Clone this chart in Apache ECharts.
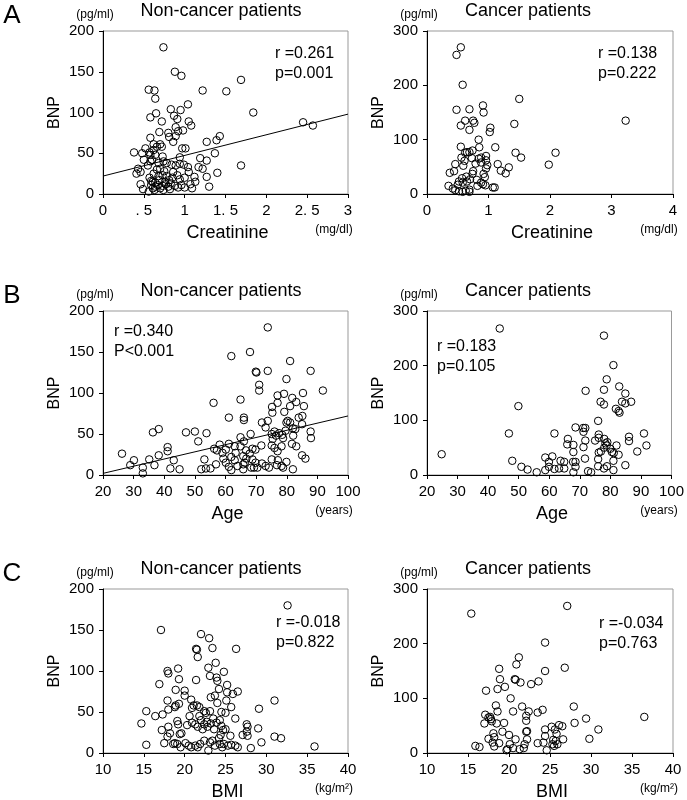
<!DOCTYPE html>
<html><head><meta charset="utf-8">
<script src="https://cdn.jsdelivr.net/npm/echarts@6/dist/echarts.min.js"></script>
<style>html,body{margin:0;padding:0;background:#fff}#c{width:687px;height:800px}</style>
</head><body><div id="c"></div>
<script>
// ---- DATA ----
const creatNonCancer = [[0.74,180],[0.88,150],[0.96,145],[0.56,128],[0.63,127],[0.64,117],[1.22,127],[1.51,126],[1.69,140],[0.65,99],[0.58,94],[0.72,89],[0.83,104],[0.87,96],[0.91,92],[0.95,103],[1.04,110],[1.05,89],[1.08,84],[1.84,100],[2.45,88],[2.57,84],[0.69,76],[0.80,75],[0.81,70],[0.89,82],[0.89,71],[0.92,77],[0.98,78],[0.86,64],[0.58,69],[0.62,61],[0.70,61],[1.27,64],[1.39,66],[1.43,71],[0.38,51],[0.48,50],[0.52,56],[0.57,51],[0.62,54],[0.66,58],[0.72,58],[0.97,56],[1.01,56],[0.58,48],[0.64,48],[0.73,46],[0.94,45],[0.50,42],[0.60,42],[0.68,38],[0.74,40],[0.78,38],[0.84,36],[0.89,35],[0.94,37],[0.99,36],[1.04,33],[1.19,44],[1.17,33],[1.22,31],[1.27,41],[1.37,50],[1.40,26],[1.27,21],[1.30,9],[1.69,35],[0.43,31],[0.41,25],[0.46,27],[0.57,20],[0.59,16],[0.62,25],[0.70,31],[0.73,23],[0.78,22],[0.81,17],[0.86,27],[0.91,23],[0.94,18],[1.00,20],[1.05,27],[1.12,21],[1.13,15],[1.07,12],[1.09,7],[1.00,8],[0.46,12],[0.49,6],[0.56,3],[0.59,11],[0.61,7],[0.64,9],[0.67,11],[0.70,7],[0.73,10],[0.77,12],[0.80,9],[0.83,13],[0.88,10],[0.92,8],[0.96,11],[0.64,14],[0.69,17],[0.61,15],[0.55,35],[0.66,30],[0.75,28],[0.85,20],[0.68,22],[0.76,15],[0.63,5],[0.74,5],[0.82,6],[0.58,40]];
const creatCancer = [[0.55,270],[0.48,256],[0.58,201],[1.50,175],[0.48,155],[0.69,156],[0.91,163],[0.92,150],[3.23,135],[0.62,135],[0.75,135],[0.77,131],[0.55,126],[0.69,118],[1.03,122],[1.02,114],[1.42,129],[0.84,100],[0.55,87],[0.85,86],[1.11,86],[0.62,76],[0.65,77],[0.69,77],[0.74,80],[1.44,76],[1.53,67],[2.09,76],[1.98,54],[0.56,67],[0.61,61],[0.46,55],[0.37,39],[0.44,42],[0.59,52],[0.73,66],[0.79,56],[0.84,65],[0.88,67],[0.96,70],[0.96,62],[0.98,53],[0.96,47],[1.15,55],[1.20,43],[1.28,38],[1.33,49],[0.75,42],[0.74,37],[0.88,58],[0.92,37],[0.94,31],[0.64,32],[0.57,29],[0.52,23],[0.50,17],[0.58,21],[0.65,23],[0.70,27],[0.81,26],[0.88,21],[0.91,18],[0.95,16],[1.07,12],[1.10,12],[0.35,15],[0.42,10],[0.46,7],[0.52,5],[0.58,4],[0.63,6],[0.69,4],[0.69,8],[0.82,15]];
const ageNonCancer = [[73.8,180],[61.9,145],[68.0,150],[69.9,126],[70.1,125],[73.8,127],[81.1,139],[87.8,127],[79.9,117],[71.0,110],[71.0,103],[91.8,103],[85.3,100],[79.1,99],[77.0,97],[56.1,88],[64.9,92],[81.8,94],[83.1,89],[75.2,83],[77.0,88],[81.1,84],[85.6,84],[79.2,77],[75.3,76],[61.1,70],[66.0,70],[66.0,67],[85.1,72],[71.9,64],[73.8,66],[73.1,58],[79.9,64],[81.1,64],[83.9,70],[85.0,62],[82.0,57],[79.6,54],[78.5,49],[76.0,53],[75.1,50],[75.4,44],[76.5,48],[77.5,51],[78.8,45],[80.3,66],[82.8,56],[87.8,53],[87.9,45],[82.1,48],[81.7,38],[83.1,35],[85.0,24],[86.1,20],[36.3,52],[38.2,56],[26.2,26],[28.9,12],[30.1,18],[33.0,9],[33.0,2],[35.1,19],[36.8,12],[38.2,24],[41.1,34],[41.1,29],[43.1,18],[42.0,8],[45.0,7],[47.1,52],[50.0,53],[51.1,41],[53.8,51],[53.1,19],[52.1,7],[53.6,8],[55.1,8],[56.9,13],[56.3,32],[57.2,30],[58.1,37],[59.0,27],[59.3,20],[60.1,31],[60.1,15],[61.1,38],[61.1,10],[61.9,22],[61.9,6],[63.0,35],[63.0,18],[63.9,11],[64.9,35],[64.9,46],[66.0,41],[65.8,23],[65.8,7],[66.7,30],[66.3,15],[67.9,26],[68.2,50],[68.8,32],[68.8,19],[68.4,9],[69.8,31],[69.8,15],[69.3,9],[70.4,9],[71.7,36],[71.9,14],[73.1,11],[74.2,9],[75.1,36],[75.1,19],[76.0,33],[77.0,29],[77.1,18],[76.8,12],[78.3,35],[78.3,11],[78.8,9],[79.9,16],[82.0,7],[65.8,13],[66.8,20],[63.3,27]];
const ageCancer = [[43.8,268],[77.9,255],[81.0,201],[78.8,175],[82.9,162],[71.9,154],[77.9,156],[84.9,149],[49.9,126],[76.8,134],[77.9,129],[83.8,134],[84.9,131],[86.8,134],[81.8,121],[82.7,117],[83.0,114],[76.0,99],[68.6,87],[46.8,76],[61.7,76],[71.1,86],[71.8,86],[71.2,79],[76.2,74],[86.1,70],[86.1,62],[91.0,76],[91.8,54],[88.8,43],[71.8,63],[75.0,63],[76.2,68],[78.0,66],[66.1,66],[65.9,56],[67.9,55],[78.4,58],[79.0,60],[78.8,54],[78.0,50],[82.0,54],[71.2,51],[80.0,48],[76.2,41],[76.9,43],[81.1,40],[82.7,37],[67.9,42],[71.7,30],[76.0,29],[81.0,26],[80.5,42],[24.8,38],[47.9,26],[50.9,15],[52.9,10],[55.9,5],[58.7,9],[58.7,32],[59.9,24],[59.9,15],[61.0,34],[61.7,11],[63.2,12],[63.7,26],[64.9,24],[64.9,12],[67.8,24],[68.6,24],[68.6,15],[67.9,5],[72.7,7],[73.7,5],[76.0,16],[77.9,12],[78.9,16],[81.0,9],[84.9,18]];
const bmiNonCancer = [[32.6,180],[17.1,150],[22.0,145],[23.0,140],[21.4,127],[21.5,126],[21.6,117],[23.4,128],[26.3,127],[23.8,110],[17.9,100],[18.0,97],[19.2,103],[19.3,90],[21.4,89],[22.9,104],[23.1,94],[23.9,92],[24.0,88],[24.8,99],[16.9,84],[18.9,77],[20.0,76],[24.2,78],[25.2,83],[20.0,70],[23.2,68],[23.7,70],[25.2,74],[25.9,72],[26.5,75],[17.9,64],[18.9,58],[18.8,56],[19.3,60],[18.0,53],[20.8,65],[20.9,55],[21.1,58],[21.5,58],[21.8,56],[22.4,51],[22.6,49],[24.0,61],[25.1,64],[25.7,56],[24.5,50],[25.0,49],[23.1,51],[31.0,64],[29.1,54],[15.3,51],[16.4,45],[17.3,47],[14.7,36],[17.2,28],[18.0,32],[18.2,24],[19.1,39],[19.2,35],[19.6,24],[19.4,23],[20.3,34],[20.6,45],[20.9,37],[21.3,35],[21.6,32],[21.8,45],[22.0,40],[22.4,35],[22.7,38],[22.2,29],[22.8,32],[23.2,36],[23.5,42],[23.6,29],[23.9,37],[24.3,40],[24.5,33],[24.7,28],[25.0,29],[26.2,42],[27.6,35],[27.7,32],[27.6,26],[27.1,22],[27.7,21],[29.0,30],[31.0,20],[31.8,18],[29.4,13],[28.1,6],[35.9,8],[15.3,10],[17.5,12],[17.9,20],[18.6,11],[18.8,12],[19.1,11],[19.5,7],[20.1,12],[20.5,9],[20.8,7],[21.3,9],[21.6,7],[21.9,11],[22.4,15],[22.9,3],[23.1,13],[23.4,15],[23.7,9],[24.2,18],[24.3,11],[24.6,7],[24.8,11],[25.3,9],[25.7,10],[26.2,9],[26.5,7],[24.4,22],[25.6,21]];
const bmiCancer = [[27.1,269],[15.4,255],[24.4,202],[21.2,175],[20.9,162],[26.8,156],[24.4,150],[18.8,154],[18.9,135],[20.7,135],[20.8,134],[21.4,129],[22.7,126],[23.6,131],[19.5,121],[18.6,117],[17.2,114],[20.2,100],[18.4,87],[18.6,76],[21.6,85],[22.4,76],[20.5,76],[22.1,68],[22.1,59],[23.5,74],[24.1,79],[27.9,85],[29.4,63],[36.5,66],[28.0,55],[17.1,70],[17.5,65],[17.7,66],[17.8,62],[17.0,54],[17.9,58],[18.5,54],[19.4,55],[22.1,39],[22.2,40],[18.1,36],[18.2,29],[17.5,26],[18.0,19],[18.2,12],[18.8,18],[19.2,39],[20.0,33],[20.8,25],[20.1,16],[19.8,7],[19.7,5],[20.5,9],[21.3,7],[21.8,9],[21.9,16],[22.2,25],[23.5,18],[24.2,19],[24.4,31],[24.4,43],[24.6,5],[25.2,48],[25.6,43],[25.8,35],[26.1,51],[25.4,24],[25.3,16],[25.7,22],[25.9,16],[25.5,13],[26.5,49],[26.6,25],[29.8,26],[30.9,43],[15.9,13],[16.4,11]];
const creatFitLine = [[0,22],[3,98]];
const ageFitLine = [[20,2],[100,72]];
const creatTickLabels = ['0', '. 5', '1', '1. 5', '2', '2. 5', '3'];
const panelTitles = ['Non-cancer patients', 'Cancer patients'];
const xNames = ['Creatinine', 'Age', 'BMI'];
const xUnits = ['(mg/dl)', '(years)', '(kg/m²)'];
const statsText = [['r =0.261','p=0.001'],['r =0.138','p=0.222'],['r =0.340','P<0.001'],['r =0.183','p=0.105'],['r =-0.018','p=0.822'],['r =-0.034','p=0.763']];

// ---- LAYOUT ----
const FONT = 'Liberation Sans, Arial, sans-serif';
const colLeft = [103, 427], colW = [245, 246];
const rowTop = [31, 311, 589], rowH = [163, 164, 164];
const xRanges = [[0,3,0.5],[0,4,1],[20,100,10],[20,100,10],[10,40,5],[10,40,5]];
const yRanges = [[0,200,50],[0,300,100],[0,200,50],[0,300,100],[0,200,50],[0,300,100]];
const seriesData = [creatNonCancer, creatCancer, ageNonCancer, ageCancer, bmiNonCancer, bmiCancer];
const statPos = [[275,54],[598,54],[114,332],[437,347],[276,623],[599,624]];

const grids = [], xAxes = [], yAxes = [], series = [], graphic = [];
for (let i = 0; i < 6; i++) {
  const r = Math.floor(i/2), c = i % 2;
  grids.push({left: colLeft[c], top: rowTop[r], width: colW[c], height: rowH[r],
    show: true, borderColor: '#999', borderWidth: 1, backgroundColor: 'transparent'});
  const xr = xRanges[i], yr = yRanges[i];
  xAxes.push({gridIndex: i, type: 'value', min: xr[0], max: xr[1], interval: xr[2],
    axisLine: {show: true, onZero: false, lineStyle: {color: '#000', width: 1}},
    axisTick: {show: true, inside: false, length: 4, lineStyle: {color: '#000'}},
    splitLine: {show: false},
    axisLabel: {show: true, color: '#000', fontSize: 15, fontFamily: FONT, margin: 9, showMinLabel: true, showMaxLabel: true, hideOverlap: false,
      formatter: i === 0 ? (v) => creatTickLabels[Math.round(v/0.5)] : (v) => String(v)}});
  yAxes.push({gridIndex: i, type: 'value', min: yr[0], max: yr[1], interval: yr[2],
    name: 'BNP', nameLocation: 'middle', nameGap: 40, nameRotate: 90,
    nameTextStyle: {color: '#000', fontSize: 16, fontFamily: FONT},
    axisLine: {show: true, onZero: false, lineStyle: {color: '#000', width: 1}},
    axisTick: {show: true, inside: false, length: 4, lineStyle: {color: '#000'}},
    splitLine: {show: false},
    axisLabel: {show: true, color: '#000', fontSize: 15, fontFamily: FONT, margin: 9, showMinLabel: true, showMaxLabel: true, hideOverlap: false}});
  series.push({type: 'scatter', xAxisIndex: i, yAxisIndex: i, data: seriesData[i],
    symbol: 'circle', symbolSize: 7.5, silent: true, animation: false,
    itemStyle: {color: 'rgba(255,255,255,0)', borderColor: '#000', borderWidth: 1, opacity: 1}});
  // titles
  const cx = colLeft[c] + colW[c]/2;
  graphic.push({type: 'text', style: {text: panelTitles[c], x: c === 0 ? 221 : 528, y: rowTop[r] - 20,
    textAlign: 'center', textVerticalAlign: 'middle', fontSize: 18, fontFamily: FONT, fill: '#000'}});
  graphic.push({type: 'text', style: {text: '(pg/ml)', x: colLeft[c] - 8, y: rowTop[r] - 16,
    textAlign: 'center', textVerticalAlign: 'middle', fontSize: 12, fontFamily: FONT, fill: '#000'}});
  const bottom = rowTop[r] + rowH[r];
  graphic.push({type: 'text', style: {text: xNames[r], x: cx + 2, y: bottom + 39,
    textAlign: 'center', textVerticalAlign: 'middle', fontSize: 18, fontFamily: FONT, fill: '#000'}});
  graphic.push({type: 'text', style: {text: xUnits[r], x: colLeft[c] + colW[c] - 14, y: bottom + 36,
    textAlign: 'center', textVerticalAlign: 'middle', fontSize: 12, fontFamily: FONT, fill: '#000'}});
  graphic.push({type: 'text', style: {text: statsText[i][0], x: statPos[i][0], y: statPos[i][1],
    textAlign: 'left', textVerticalAlign: 'middle', fontSize: 16, fontFamily: FONT, fill: '#000'}});
  graphic.push({type: 'text', style: {text: statsText[i][1], x: statPos[i][0], y: statPos[i][1] + 20,
    textAlign: 'left', textVerticalAlign: 'middle', fontSize: 16, fontFamily: FONT, fill: '#000'}});
}
['A','B','C'].forEach((t, r) => graphic.push({type: 'text', style: {text: t, x: 12, y: rowTop[r] - 15,
  textAlign: 'center', textVerticalAlign: 'middle', fontSize: 26, fontFamily: FONT, fill: '#000'}}));

series.push({type: 'line', xAxisIndex: 0, yAxisIndex: 0, data: creatFitLine, symbol: 'none', silent: true, animation: false,
  lineStyle: {color: '#000', width: 1}});
series.push({type: 'line', xAxisIndex: 2, yAxisIndex: 2, data: ageFitLine, symbol: 'none', silent: true, animation: false,
  lineStyle: {color: '#000', width: 1}});

const chart = echarts.init(document.getElementById('c'), null, {renderer: 'canvas'});
chart.setOption({backgroundColor: '#fff', animation: false, grid: grids, xAxis: xAxes, yAxis: yAxes, series: series, graphic: graphic});
</script></body></html>
